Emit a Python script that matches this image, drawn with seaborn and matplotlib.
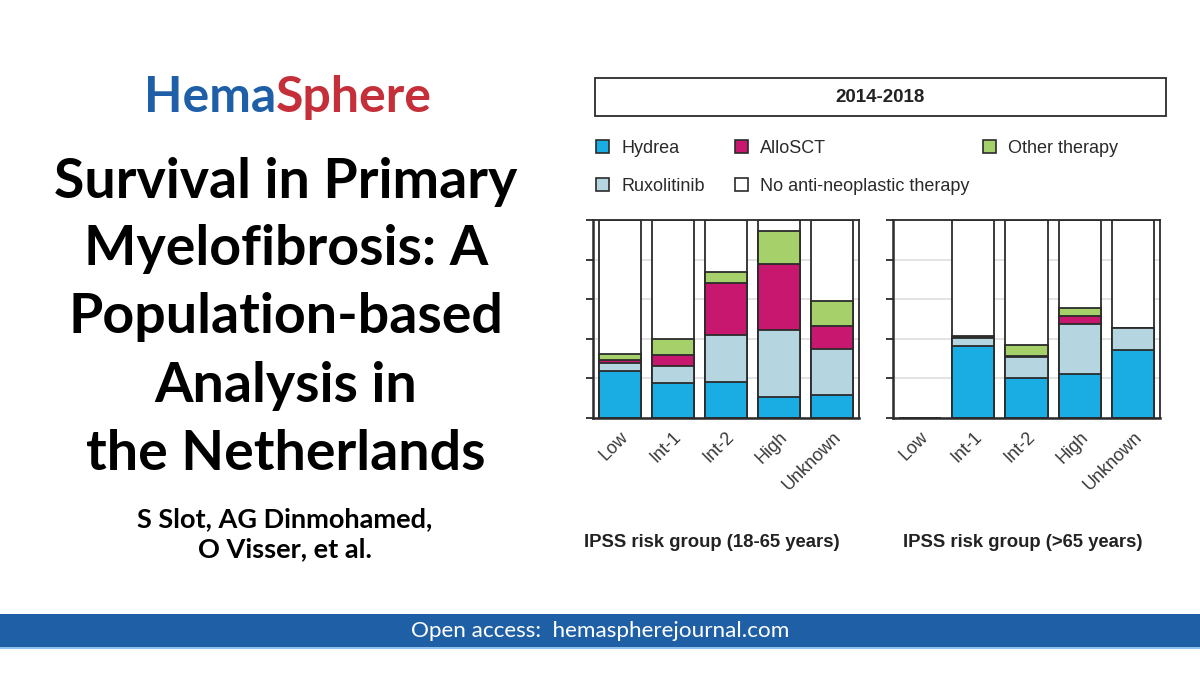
import numpy as np
import pandas as pd
import matplotlib
matplotlib.use("Agg")
import matplotlib.pyplot as plt
from matplotlib.patches import Rectangle, Patch
import seaborn as sns

# data (% of patients per IPSS risk group, 2014-2018)
groups = ["Low", "Int-1", "Int-2", "High", "Unknown"]
therapies = ["Hydrea", "Ruxolitinib", "AlloSCT", "Other therapy", "No anti-neoplastic therapy"]

young_hydrea = [23.8, 17.9, 18.2, 10.8, 11.8]
young_ruxo = [4.0, 8.4, 23.5, 33.4, 23.3]
young_allo = [1.4, 5.4, 26.4, 33.4, 11.6]
young_other = [3.0, 8.4, 5.4, 16.7, 12.2]
young_none = [67.8, 59.9, 26.5, 5.7, 41.1]

old_hydrea = [0.0, 36.3, 20.1, 22.3, 34.2]
old_ruxo = [0.0, 4.3, 10.8, 25.4, 11.5]
old_allo = [0.0, 0.3, 0.5, 3.7, 0.0]
old_other = [0.0, 0.3, 5.7, 4.2, 0.0]
old_none = [0.0, 58.8, 62.9, 44.4, 54.3]

colors = {"Hydrea": "#19ade3", "Ruxolitinib": "#b5d5e0", "AlloSCT": "#c8176f",
          "Other therapy": "#a6d06a", "No anti-neoplastic therapy": "#ffffff"}
edge = "#2b2b2b"

sns.set_style("white")
plt.rcParams["font.family"] = ["Liberation Sans", "DejaVu Sans"]

fig = plt.figure(figsize=(12, 6.75), dpi=100)


def fx(px):
    return px / 1200


def fy(py):
    return 1 - py / 675


def stacked(ax, parts, xlabel, label_x):
    df = pd.DataFrame(dict(zip(therapies, parts)), index=groups)
    cum = df.cumsum(axis=1)
    # draw tallest layer first so each lower layer sits on top of it
    for t in therapies[::-1]:
        sns.barplot(x=groups, y=cum[t].values, order=groups, color=colors[t],
                    saturation=1, edgecolor=edge, linewidth=1.3, width=0.79,
                    errorbar=None, ax=ax)
    ax.set_xlim(-0.5, 4.5)
    ax.set_ylim(0, 100)
    ax.set_yticks([0, 20, 40, 60, 80, 100])
    ax.set_yticklabels([])
    ax.yaxis.grid(True, color="#dedede", lw=1.2)
    ax.set_axisbelow(True)
    ax.tick_params(axis="y", left=True, length=5, width=1.3, color=edge, direction="out")
    ax.tick_params(axis="x", bottom=False, pad=4)
    ax.set_xticks(range(len(groups)))
    ax.set_xticklabels(groups, rotation=45, ha="right", rotation_mode="anchor",
                       fontsize=13, color="#3a3a3a")
    for s in ax.spines.values():
        s.set_visible(True)
        s.set_color(edge)
        s.set_linewidth(1.3)
    ax.spines["left"].set_linewidth(1.8)
    ax.spines["bottom"].set_linewidth(1.8)
    ax.set_ylabel("")
    ax.set_xlabel(xlabel, fontsize=13.3, fontweight="bold", color="#222222")
    ax.xaxis.set_label_coords(label_x, -0.585)


ax1 = fig.add_axes([fx(593), fy(418), fx(266), 198 / 675])
ax2 = fig.add_axes([fx(893), fy(418), fx(267), 198 / 675])
stacked(ax1, [young_hydrea, young_ruxo, young_allo, young_other, young_none],
        "IPSS risk group (18-65 years)", 0.445)
stacked(ax2, [old_hydrea, old_ruxo, old_allo, old_other, old_none],
        "IPSS risk group (>65 years)", 0.485)

# period header box
fig.patches.append(Rectangle((fx(595), fy(116)), fx(571), 38 / 675, transform=fig.transFigure,
                             fill=False, edgecolor=edge, lw=1.3))
fig.text(fx(880), fy(97), "2014-2018", ha="center", va="center", fontsize=13.5,
         fontweight="bold", color="#222222")

# legend, three columns
cols = [(["Hydrea", "Ruxolitinib"], 596), (["AlloSCT", "No anti-neoplastic therapy"], 735),
        (["Other therapy"], 983)]
for names, x0 in cols:
    handles = [Patch(facecolor=colors[n], edgecolor=edge, lw=1.2, label=n) for n in names]
    leg = fig.legend(handles=handles, loc="upper left", bbox_to_anchor=(fx(x0), fy(140)),
                     frameon=False, fontsize=13, handlelength=0.7, handleheight=0.7,
                     handletextpad=0.7, labelspacing=1.17, borderpad=0, borderaxespad=0)
    for txt in leg.get_texts():
        txt.set_color("#2a2a2a")

# left text panel
fig.text(fx(276), fy(112), "Hema", ha="right", va="baseline", fontsize=36,
         fontweight="bold", color="#1f5fa8", family="Lato")
fig.text(fx(276), fy(112), "Sphere", ha="left", va="baseline", fontsize=36,
         fontweight="bold", color="#c42f39", family="Lato")

title_lines = ["Survival in Primary", "Myelofibrosis: A", "Population-based",
               "Analysis in", "the Netherlands"]
baselines = [198, 265, 333, 402, 470]
for line, b in zip(title_lines, baselines):
    fig.text(fx(286), fy(b), line, ha="center", va="baseline", fontsize=40,
             fontweight="bold", color="black", family="Lato")

authors = ["S Slot, AG Dinmohamed,", "O Visser, et al."]
for line, b in zip(authors, [527, 557]):
    fig.text(fx(285), fy(b), line, ha="center", va="baseline", fontsize=19.5,
             fontweight="bold", color="black", family="Lato")

# bottom banner
fig.patches.append(Rectangle((0, fy(648)), 1, 34 / 675, transform=fig.transFigure,
                             facecolor="#1f5fa6", edgecolor="none"))
fig.patches.append(Rectangle((0, fy(649)), 1, 2 / 675, transform=fig.transFigure,
                             facecolor="#8fc3ee", edgecolor="none"))
fig.text(0.5, fy(631), "Open access:  hemaspherejournal.com", ha="center", va="center",
         fontsize=16.2, color="white", family="Lato")

fig.savefig("out.png", dpi=100)
